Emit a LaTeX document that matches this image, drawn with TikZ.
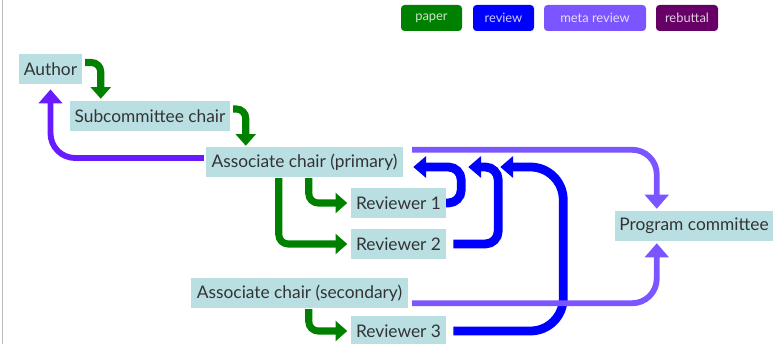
\documentclass[tikz,border=0pt]{standalone}
\usepackage{fontspec}
\setmainfont{Lato}
\usepackage{xcolor}
\definecolor{Paper}{HTML}{008000}
\definecolor{Review}{HTML}{0000FF}
\definecolor{MetaReview}{HTML}{7B55FF}
\definecolor{Decision}{HTML}{6A1AFF}
\definecolor{Rebuttal}{HTML}{660066}
\definecolor{Box}{HTML}{B9DFE3}
\definecolor{Ink}{HTML}{333333}
\definecolor{Frame}{HTML}{BBBBBB}
\usepackage{tikz}
\usetikzlibrary{arrows.meta}
\tikzset{
  every picture/.style={font={\fontsize{14.8}{17}\selectfont}, x=0.03cm, y=-0.03cm},
  role/.style={fill=Box, text=Ink, inner sep=0pt, minimum height=0.9cm, minimum width=#1},
  tag/.style={rounded corners=3pt, text=white, text opacity=0.8, inner sep=0pt,
    minimum height=0.78cm, font={\fontsize{11}{13}\selectfont}},
  paper/.style={Paper, line width=6pt, rounded corners=8pt, -{Triangle[length=10pt, width=17pt]}},
  review/.style={Review, line width=7.5pt, rounded corners=11pt, -{Triangle[length=11pt, width=18pt]}},
  metareview/.style={MetaReview, line width=5pt, rounded corners=21pt, -{Triangle[length=12pt, width=20pt]}}}

\begin{document}
\begin{tikzpicture}
    \useasboundingbox (0,0) rectangle (774,344);
    \draw[Frame, line width=0.8pt] (2,0) -- (2,344);

    \foreach \cx/\w/\col/\name/\txt in {431.5/61/Paper/tagPaper/paper, 503.5/61/Review/tagReview/review,
        595/102/MetaReview/tagMeta/meta review, 687/62/Rebuttal/tagRebuttal/rebuttal} {
      \node[tag, fill=\col, minimum width=\w*0.03cm] (\name) at (\cx,18) {\txt};
    }

    \node[role=1.89cm] (author) at (50.5,69.5) {Author};
    \node[role=4.8cm] (sub) at (150,116) {Subcommittee chair};
    \node[role=5.91cm] (acp) at (304.5,162) {Associate chair (primary)};
    \node[role=2.85cm] (r1) at (398.5,203) {Reviewer 1};
    \node[role=2.85cm] (r2) at (398.5,244) {Reviewer 2};
    \node[role=4.74cm] (pc) at (694,226) {Program committee};
    \node[role=6.51cm] (acs) at (299.5,293) {Associate chair (secondary)};
    \node[role=2.85cm] (r3) at (398.5,331) {Reviewer 3};

    \draw[paper] ([shift={(3,-7)}]author.east) -| ([shift={(31,-2)}]sub.north west);
    \draw[paper] ([shift={(3,-7)}]sub.east) -| ([shift={(40,-1)}]acp.north west);
    \draw[paper] ([shift={(103,1)}]acp.south west) |- ([xshift=-3pt]r1.west);
    \draw[paper] ([shift={(73,1)}]acp.south west) |- ([xshift=-3pt]r2.west);
    \draw[paper] ([shift={(118,1)}]acs.south west) |- ([xshift=-3pt]r3.west);

    \draw[review] (r1.east) -| ([shift={(58,5)}]acp.east) -- ([shift={(10,5)}]acp.east);
    \draw[review] ([xshift=6pt]r2.east) -| ([shift={(95,5)}]acp.east) -- ([shift={(65,5)}]acp.east);
    \draw[review, rounded corners=28pt] ([xshift=6pt]r3.east) -| ([shift={(160,5)}]acp.east)
      -- ([shift={(97,5)}]acp.east);

    \draw[metareview, Decision] ([shift={(-2,-4)}]acp.west) -| ([yshift=-4pt]author.south);
    \draw[metareview] ([shift={(9,3)}]acp.north east) -| ([shift={(42,-2)}]pc.north west);
    \draw[metareview] ([shift={(4,-5)}]acs.south east) -| ([shift={(42,2)}]pc.south west);
  \end{tikzpicture}
\end{document}
